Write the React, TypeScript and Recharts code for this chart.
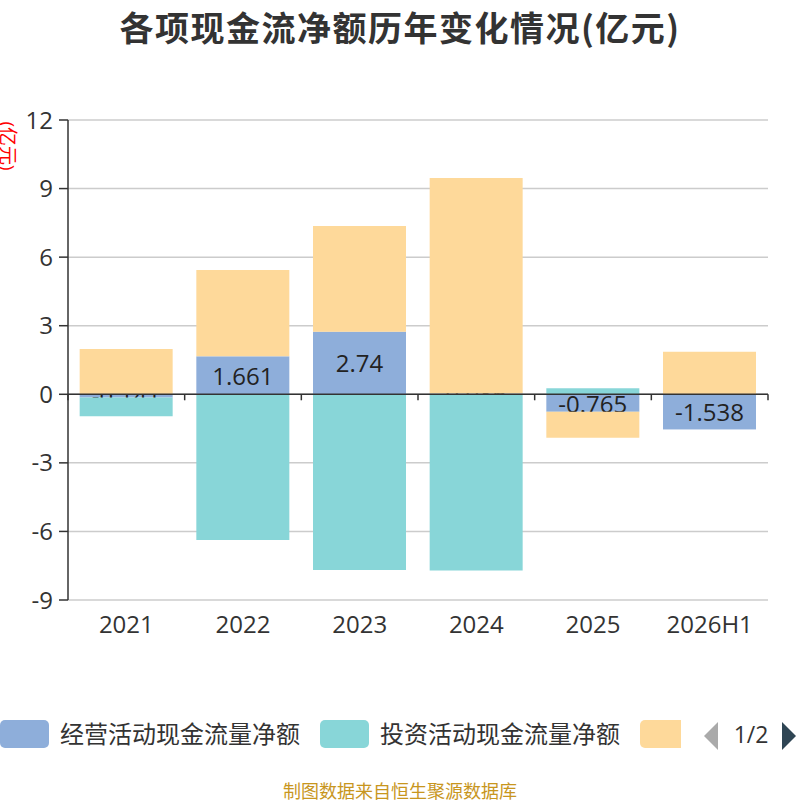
import React from 'react';
import { BarChart, Bar, XAxis, YAxis, CartesianGrid, ReferenceLine } from 'recharts';

const years = ['2021', '2022', '2023', '2024', '2025', '2026H1'];
const operating = [-0.141, 1.661, 2.74, 0.036, -0.765, -1.538];
const investing = [-0.82, -6.37, -7.69, -7.71, 0.26, 0];
const financing = [1.98, 3.78, 4.62, 9.43, -1.135, 1.86];
const yTicks = [-9, -6, -3, 0, 3, 6, 9, 12];

const series = [
  { key: 'operating', name: '经营活动现金流量净额', color: '#8EAEDA' },
  { key: 'investing', name: '投资活动现金流量净额', color: '#88D6D8' },
  { key: 'financing', name: '筹资活动现金流量净额', color: '#FED99A' },
];

const data = years.map((year, i) => ({
  year,
  operating: operating[i],
  investing: investing[i],
  financing: financing[i],
}));

const FONT = "'Open Sans', 'Noto Sans CJK SC', sans-serif";

// zero axis line with small ticks at category boundaries
const ZeroAxis = (props: any) => {
  const { x1, x2, y1 } = props;
  const n = years.length;
  const step = (x2 - x1) / n;
  const ticks = [];
  for (let k = 0; k <= n; k++) {
    const x = x1 + k * step;
    ticks.push(<line key={k} x1={x} x2={x} y1={y1} y2={y1 + 6} stroke="#333" strokeWidth={1.5} />);
  }
  return (
    <g>
      <line x1={x1} x2={x2} y1={y1} y2={y1} stroke="#333" strokeWidth={1.5} />
      {ticks}
    </g>
  );
};

// bar + its value label drawn together so later series can cover the label
const LabeledBar = (props: any) => {
  const { x, y, width, height, fill, value } = props;
  const v = Array.isArray(value) ? value[1] - value[0] : value;
  const top = Math.min(y, y + height);
  const h = Math.abs(height);
  const text = operating[props.index] ?? v;
  return (
    <g>
      <rect x={x} y={top} width={width} height={h} fill={fill} />
      <text
        x={x + width / 2}
        y={top + h / 2}
        textAnchor="middle"
        dominantBaseline="central"
        fontSize={24}
        fill="#222"
        fontFamily={FONT}
      >
        {text}
      </text>
    </g>
  );
};

const App = () => {
  return (
    <div style={{ position: 'absolute', left: 0, top: 0, width: 800, height: 800, background: '#fff', fontFamily: FONT }}>
      <div style={{ position: 'absolute', top: 2, left: 0, width: 800, textAlign: 'center', fontSize: 34, fontWeight: 'bold', color: '#333', letterSpacing: 1.5, fontFamily: "'Noto Sans CJK SC', sans-serif" }}>
        各项现金流净额历年变化情况(亿元)
      </div>
      <BarChart
        width={800}
        height={800}
        data={data}
        stackOffset="sign"
        barCategoryGap="10%"
        margin={{ top: 120, right: 32, left: 8, bottom: 170 }}
        style={{ position: 'absolute', left: 0, top: 0 }}
      >
        <CartesianGrid vertical={false} stroke="#ccc" strokeWidth={1.5} />
        <XAxis
          dataKey="year"
          axisLine={false}
          tickLine={false}
          tickMargin={10}
          tick={{ fontSize: 24, fill: '#333', fontFamily: FONT }}
          interval={0}
        />
        <YAxis
          width={60}
          domain={[-9, 12]}
          ticks={yTicks}
          interval={0}
          stroke="#333"
          tickSize={9}
          tickMargin={6}
          tick={{ fontSize: 24, fill: '#333', fontFamily: FONT }}
          axisLine={{ stroke: '#333', strokeWidth: 1.5 }}
          tickLine={{ stroke: '#333', strokeWidth: 1.5 }}
          label={{
            content: () => (
              <text
                transform="translate(8,146) rotate(90)"
                textAnchor="middle"
                dominantBaseline="central"
                fontSize={19}
                fill="#f00"
                fontFamily={FONT}
              >
                (亿元)
              </text>
            ),
          }}
        />
        {series.map((s) => (
          <Bar
            key={s.key}
            dataKey={s.key}
            name={s.name}
            stackId="a"
            fill={s.color}
            isAnimationActive={false}
            shape={s.key === 'operating' ? <LabeledBar /> : undefined}
          />
        ))}
        <ReferenceLine y={0} shape={<ZeroAxis />} />
      </BarChart>

      {/* legend, scrolled like the original paged legend */}
      <div style={{ position: 'absolute', left: 0, top: 720, width: 681, height: 30, overflow: 'hidden', whiteSpace: 'nowrap' }}>
        {series.map((s) => (
          <span key={s.key} style={{ display: 'inline-flex', alignItems: 'center', marginRight: 20, verticalAlign: 'top' }}>
            <span style={{ display: 'inline-block', width: 49, height: 28, borderRadius: 5, background: s.color }} />
            <span style={{ marginLeft: 11, fontSize: 24, color: '#333', lineHeight: '28px' }}>{s.name}</span>
          </span>
        ))}
      </div>
      <svg style={{ position: 'absolute', left: 700, top: 718 }} width={100} height={34}>
        <polygon points="18,4 18,32 4,18" fill="#aaa" />
        <text x={51} y={25} textAnchor="middle" fontSize={23} fill="#333" fontFamily={FONT}>1/2</text>
        <polygon points="82,4 82,32 96,18" fill="#2f4554" />
      </svg>

      <div style={{ position: 'absolute', top: 777, left: 0, width: 800, textAlign: 'center', fontSize: 18, color: '#c8961e', fontFamily: "'Noto Sans CJK SC', sans-serif" }}>
        制图数据来自恒生聚源数据库
      </div>
    </div>
  );
};

export default App;
